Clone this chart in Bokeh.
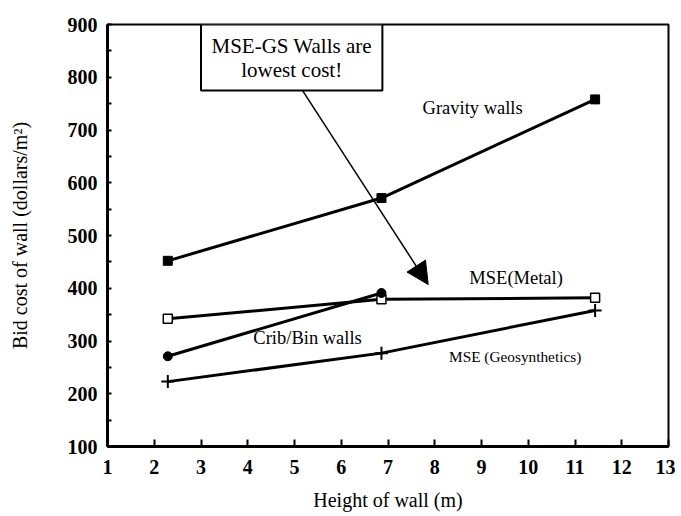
from bokeh.plotting import figure
from bokeh.models import FixedTicker, Label, BoxAnnotation, Arrow, NormalHead, Range1d
from bokeh.embed import file_html
from bokeh.resources import INLINE

# ---- data ----
heights = [2.29, 6.86, 11.43]
gravity_cost = [452, 571, 758]
mse_metal_cost = [342, 379, 382]
crib_heights = [2.29, 6.86]
crib_cost = [271, 391]
mse_geo_cost = [223, 277, 358]

x_ticks = list(range(1, 14))
y_ticks = list(range(100, 901, 100))
y_minor = list(range(150, 900, 100))

FONT = "'Liberation Serif', 'Times New Roman', serif"

p = figure(width=675, height=514, x_range=Range1d(1, 13), y_range=Range1d(100, 900),
           output_backend="svg", toolbar_location=None,
           min_border_left=107, min_border_right=7, min_border_top=24, min_border_bottom=68)
p.grid.visible = False
p.background_fill_color = "white"
p.outline_line_color = "black"
p.outline_line_width = 2

p.xaxis.ticker = FixedTicker(ticks=x_ticks)
p.yaxis.ticker = FixedTicker(ticks=y_ticks, minor_ticks=y_minor)

for ax in (p.xaxis, p.yaxis):
    ax.axis_line_width = 3
    ax.axis_line_color = "black"
    ax.major_tick_out = 0
    ax.major_tick_line_width = 2
    ax.major_tick_line_color = "black"
    ax.minor_tick_out = 0
    ax.minor_tick_line_width = 2
    ax.minor_tick_line_color = "black"
    ax.major_label_text_font = FONT
    ax.major_label_text_font_size = "20px"
    ax.major_label_text_font_style = "bold"
    ax.major_label_text_color = "black"
    ax.axis_label_text_font = FONT
    ax.axis_label_text_font_size = "20px"
    ax.axis_label_text_font_style = "normal"
    ax.axis_label_text_color = "black"

p.xaxis.major_tick_in = 7
p.xaxis.minor_tick_in = 0
p.yaxis.major_tick_in = 4
p.yaxis.minor_tick_in = 4
p.xaxis.major_label_standoff = 13
p.yaxis.major_label_standoff = 10
p.xaxis.axis_label = "Height of wall (m)"
p.yaxis.axis_label = "Bid cost of wall (dollars/m²)"
p.xaxis.axis_label_standoff = 12
p.yaxis.axis_label_standoff = 34

LW = 3
# Gravity walls
p.line(heights, gravity_cost, line_width=LW, color="black")
p.scatter(heights, gravity_cost, marker="square", size=9, fill_color="black", line_color="black")
# MSE (Metal)
p.line(heights, mse_metal_cost, line_width=LW, color="black")
p.scatter(heights, mse_metal_cost, marker="square", size=9, fill_color="white", line_color="black", line_width=1.5)
# Crib/Bin walls
p.line(crib_heights, crib_cost, line_width=LW, color="black")
p.scatter(crib_heights, crib_cost, marker="circle", size=9, fill_color="black", line_color="black")
# MSE (Geosynthetics)
p.line(heights, mse_geo_cost, line_width=LW, color="black")
p.scatter(heights, mse_geo_cost, marker="cross", size=13, line_color="black", line_width=2)

# series labels
def lab(x, y, t, size):
    p.add_layout(Label(x=x, y=y, text=t, text_font=FONT, text_font_size=size,
                       text_align="center", text_baseline="middle", text_color="black"))

lab(8.81, 742, "Gravity walls", "18.5px")
lab(9.74, 420, "MSE(Metal)", "18.5px")
lab(5.28, 305, "Crib/Bin walls", "18.5px")
lab(9.72, 271, "MSE (Geosynthetics)", "15.3px")

# callout box
p.add_layout(BoxAnnotation(left=3.0, right=6.88, bottom=775, top=900,
                           fill_color="white", fill_alpha=1.0,
                           line_color="black", line_width=2, line_alpha=1.0))
lab(4.94, 859, "MSE-GS Walls are", "21px")
lab(4.94, 813, "lowest cost!", "21px")

p.add_layout(Arrow(x_start=5.17, y_start=775, x_end=7.86, y_end=407,
                   line_color="black", line_width=1.5,
                   end=NormalHead(size=22, fill_color="black", line_color="black")))

open("out.html", "w").write(file_html(p, INLINE))
